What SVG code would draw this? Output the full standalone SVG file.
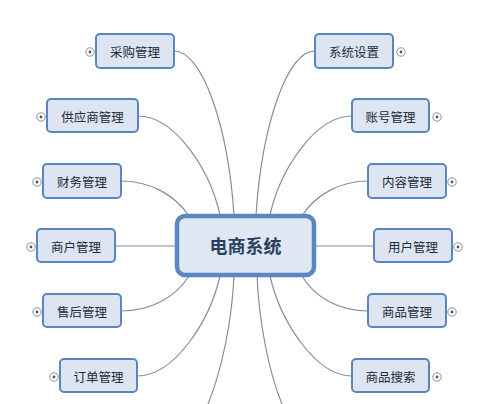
<svg xmlns="http://www.w3.org/2000/svg" width="500" height="404" viewBox="0 0 500 404">
<style>
.bg{fill:#ffffff}
.edge{fill:none;stroke:#7d90aa;stroke-width:1.2}
.box{fill:#dce5f1;stroke:#5b85bf;stroke-width:2}
.center{fill:#dfe7f2;stroke:#5a86c4;stroke-width:4.5}
.t{font-family:"Noto Sans CJK SC","Noto Sans",sans-serif;font-size:12.5px;fill:#1e2a38;text-anchor:middle;dominant-baseline:central}
.tc{font-family:"Noto Sans CJK SC","Noto Sans",sans-serif;font-size:18px;font-weight:bold;fill:#2a3f5f;text-anchor:middle;dominant-baseline:central}
.exp{fill:#ffffff;stroke:#8a8f96;stroke-width:1}
.dot{fill:#555}
</style>
<defs>
<g id="plus"><circle class="exp" r="4.2"/><circle class="dot" r="1.4"/></g>
</defs>
<rect class="bg" width="500" height="404"/>
<g id="connectors">
<path class="edge" d="M174,51 C202,51 228,125 234,215"/>
<path class="edge" d="M138,116 C175,116 210,170 220,215"/>
<path class="edge" d="M121,181 C150,181 175,195 189,216"/>
<path class="edge" d="M115,246 L177,246"/>
<path class="edge" d="M121,311 C150,311 175,298 189,276"/>
<path class="edge" d="M137,376 C175,376 210,320 220,276"/>
<path class="edge" d="M315,51 C287,51 262,125 256,215"/>
<path class="edge" d="M352,116 C315,116 280,170 270,215"/>
<path class="edge" d="M368,181 C340,181 315,195 302,216"/>
<path class="edge" d="M374,246 L314,246"/>
<path class="edge" d="M368,311 C340,311 315,298 302,276"/>
<path class="edge" d="M352,376 C315,376 280,320 270,276"/>
<path class="edge" d="M234,276 C232,320 222,370 208,404"/>
<path class="edge" d="M257,276 C259,320 268,370 282,404"/>
</g>
<g id="center"><rect class="center" x="177" y="216" width="137" height="59" rx="8"/><text class="tc" x="245.5" y="245">电商系统</text></g>
<g id="n1"><rect class="box" x="96" y="34" width="78" height="34" rx="4"/><text class="t" x="135" y="51">采购管理</text><use href="#plus" x="90" y="52"/></g>
<g id="n2"><rect class="box" x="47" y="99" width="91" height="33" rx="4"/><text class="t" x="92.5" y="116">供应商管理</text><use href="#plus" x="41" y="117"/></g>
<g id="n3"><rect class="box" x="43" y="164" width="78" height="34" rx="4"/><text class="t" x="82" y="181">财务管理</text><use href="#plus" x="37" y="182"/></g>
<g id="n4"><rect class="box" x="37" y="229" width="78" height="33" rx="4"/><text class="t" x="76" y="246">商户管理</text><use href="#plus" x="31" y="247"/></g>
<g id="n5"><rect class="box" x="43" y="294" width="78" height="33" rx="4"/><text class="t" x="82" y="311">售后管理</text><use href="#plus" x="37" y="312"/></g>
<g id="n6"><rect class="box" x="60" y="359" width="77" height="33" rx="4"/><text class="t" x="98.5" y="376">订单管理</text><use href="#plus" x="54" y="377"/></g>
<g id="n7"><rect class="box" x="315" y="34" width="78" height="34" rx="4"/><text class="t" x="354" y="51">系统设置</text><use href="#plus" x="401" y="52"/></g>
<g id="n8"><rect class="box" x="352" y="99" width="77" height="33" rx="4"/><text class="t" x="390.5" y="116">账号管理</text><use href="#plus" x="437" y="117"/></g>
<g id="n9"><rect class="box" x="368" y="164" width="78" height="34" rx="4"/><text class="t" x="407" y="181">内容管理</text><use href="#plus" x="452" y="182"/></g>
<g id="n10"><rect class="box" x="374" y="229" width="78" height="33" rx="4"/><text class="t" x="413" y="246">用户管理</text><use href="#plus" x="458" y="247"/></g>
<g id="n11"><rect class="box" x="368" y="294" width="78" height="33" rx="4"/><text class="t" x="407" y="311">商品管理</text><use href="#plus" x="452" y="312"/></g>
<g id="n12"><rect class="box" x="352" y="359" width="77" height="33" rx="4"/><text class="t" x="390.5" y="376">商品搜索</text><use href="#plus" x="437" y="377"/></g>
</svg>
